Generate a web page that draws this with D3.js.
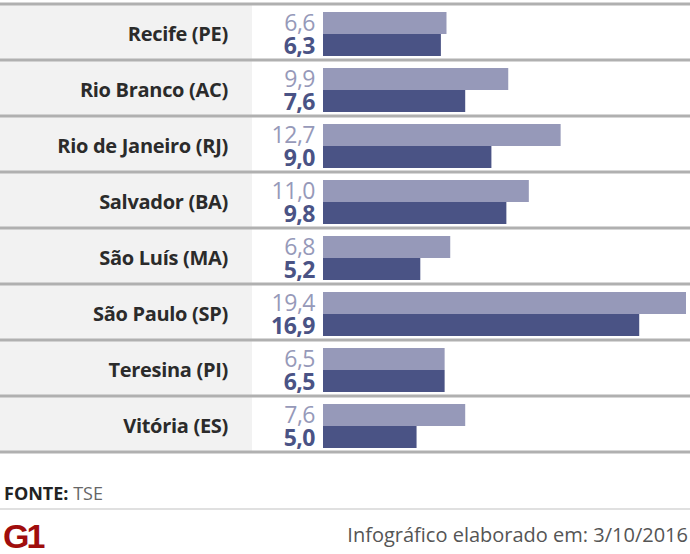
<!DOCTYPE html>
<html><head><meta charset="utf-8">
<script src="https://cdn.jsdelivr.net/npm/d3@7"></script>
<style>body{margin:0;background:#fff}</style>
</head><body>
<svg id="chart" width="690" height="554"></svg>
<script>
var cities = ["Recife (PE)", "Rio Branco (AC)", "Rio de Janeiro (RJ)", "Salvador (BA)", "São Luís (MA)", "São Paulo (SP)", "Teresina (PI)", "Vitória (ES)"];
var firstValues = [6.6, 9.9, 12.7, 11.0, 6.8, 19.4, 6.5, 7.6];
var secondValues = [6.3, 7.6, 9.0, 9.8, 5.2, 16.9, 6.5, 5.0];

var svg = d3.select("#chart");
var fmt = function(v){ return d3.format(".1f")(v).replace(".", ","); };

var y = d3.scaleBand().domain(cities).range([4, 452]);
var x = d3.scaleLinear().domain([0, 19.4]).range([323, 686]);

var rows = svg.selectAll("g.row").data(cities).enter()
	.append("g").attr("class", "row")
	.attr("transform", function(d){ return "translate(0," + y(d) + ")"; });

rows.append("rect").attr("x", 0).attr("y", 0).attr("width", 252).attr("height", y.bandwidth())
	.attr("fill", "#f2f2f2");

rows.append("text").attr("x", 228).attr("y", 37).attr("text-anchor", "end")
	.attr("font-family", "'Open Sans', sans-serif").attr("font-weight", "bold").attr("font-size", 20)
	.attr("letter-spacing", -0.3)
	.attr("fill", "#2b2b2b").text(function(d){ return d; });

rows.append("rect").attr("x", x(0)).attr("y", 8)
	.attr("width", function(d,i){ return x(firstValues[i]) - x(0); }).attr("height", 22)
	.attr("fill", "#9699b9");
rows.append("rect").attr("x", x(0)).attr("y", 30)
	.attr("width", function(d,i){ return x(secondValues[i]) - x(0); }).attr("height", 22)
	.attr("fill", "#4a5385");

rows.append("text").attr("x", 315).attr("y", 27).attr("text-anchor", "end")
	.attr("font-family", "'Open Sans', sans-serif").attr("font-size", 23).attr("letter-spacing", -0.5).attr("fill", "#9699b9")
	.text(function(d,i){ return fmt(firstValues[i]); });
rows.append("text").attr("x", 315).attr("y", 50).attr("text-anchor", "end")
	.attr("font-family", "'Open Sans', sans-serif").attr("font-weight", "bold").attr("font-size", 23).attr("letter-spacing", -0.5).attr("fill", "#4a5385")
	.text(function(d,i){ return fmt(secondValues[i]); });

// separators
svg.selectAll("line.sep").data(d3.range(cities.length + 1)).enter()
	.append("line").attr("class", "sep")
	.attr("x1", 0).attr("x2", 690)
	.attr("y1", function(i){ return 4 + i * y.step(); })
	.attr("y2", function(i){ return 4 + i * y.step(); })
	.attr("stroke", "#b0b0b0").attr("stroke-width", 3);

var foot = svg.append("text").attr("x", 4).attr("y", 500)
	.attr("font-family", "'Open Sans', sans-serif").attr("font-size", 18).attr("fill", "#222");
foot.append("tspan").attr("font-weight", "bold").text("FONTE: ");
foot.append("tspan").attr("fill", "#666").text("TSE");

svg.append("line").attr("x1", 0).attr("x2", 690).attr("y1", 509).attr("y2", 509)
	.attr("stroke", "#e0e0e0").attr("stroke-width", 2);

svg.append("text").attr("x", 3).attr("y", 548)
	.attr("font-family", "'Liberation Sans', sans-serif").attr("font-weight", "bold").attr("font-size", 34)
	.attr("fill", "#a00d0d").attr("letter-spacing", -3).text("G1");

svg.append("text").attr("x", 688).attr("y", 542).attr("text-anchor", "end")
	.attr("font-family", "'Open Sans', sans-serif").attr("font-size", 20).attr("fill", "#555")
	.text("Infográfico elaborado em: 3/10/2016");
</script>
</body></html>
